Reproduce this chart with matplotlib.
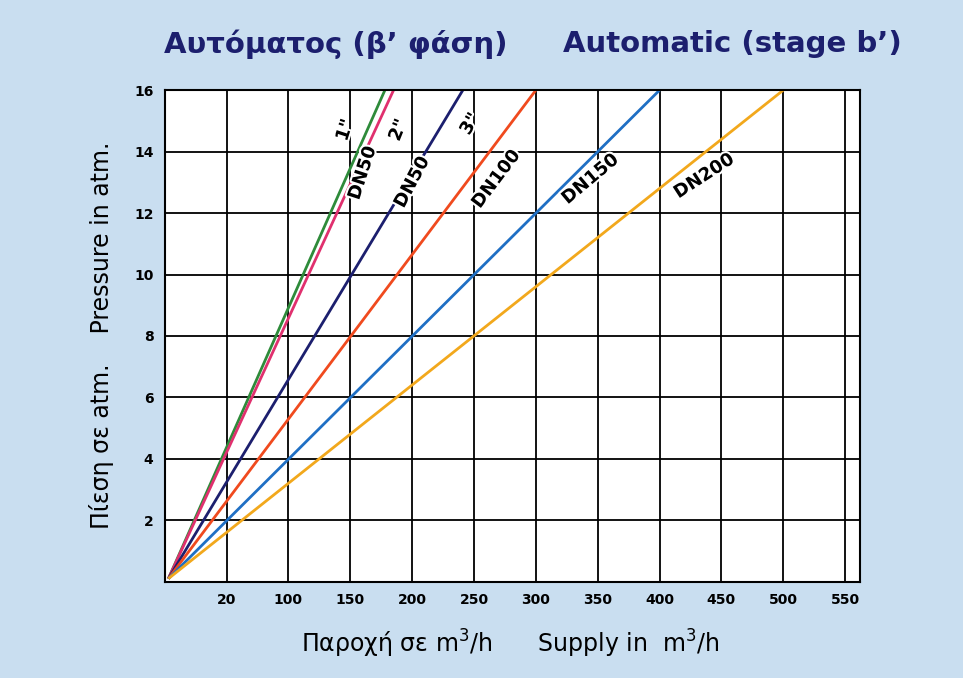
import matplotlib.pyplot as plt
import matplotlib.patheffects as pe

# supply (m3/h) reached at 16 atm for each size, lines start at origin
series_names = ['1"', '2"', "DN50", "DN100", "DN150", "DN200"]
end_supply = [178, 185, 241, 300, 400, 500]
colors = ["#2e8b3a", "#e0306e", "#1c1f6e", "#f04a1e", "#1f6fc4", "#f2a81c"]
x_ticks = [50, 100, 150, 200, 250, 300, 350, 400, 450, 500, 550]
x_ticklabels = ["20", "100", "150", "200", "250", "300", "350", "400", "450", "500", "550"]
y_ticks = [2, 4, 6, 8, 10, 12, 14, 16]

labels = [('1"', 146, 14.7, 72), ('2"', 189, 14.7, 68), ("DN50", 160, 13.3, 72),
          ("DN50", 200, 13.0, 62), ('3"', 247, 14.9, 60), ("DN100", 268, 13.1, 53),
          ("DN150", 344, 13.1, 40), ("DN200", 436, 13.2, 33)]

bg = "#c9def0"
fig = plt.figure(figsize=(9.63, 6.78), dpi=100, facecolor=bg)
ax = fig.add_axes([0.171, 0.142, 0.722, 0.725])
ax.set_facecolor("white")
ax.set_xlim(0, 562)
ax.set_ylim(0, 16)
ax.set_xticks(x_ticks)
ax.set_xticklabels(x_ticklabels, fontsize=10, fontweight="bold")
ax.set_yticks(y_ticks)
ax.set_yticklabels([str(v) for v in y_ticks], fontsize=10, fontweight="bold")
ax.tick_params(length=0, pad=8)
ax.grid(True, color="black", lw=1.3)
for s in ax.spines.values():
    s.set_linewidth(1.5)

for name, xe, c in zip(series_names, end_supply, colors):
    ax.plot([3, xe], [0.1, 16], color=c, lw=2, solid_capstyle="butt")

for txt, x, y, r in labels:
    ax.text(x, y, txt, rotation=r, fontsize=13, fontweight="bold", ha="center", va="center",
            path_effects=[pe.withStroke(linewidth=3, foreground="white")])

fig.text(0.17, 0.935, "Αυτόματος (β’ φάση)", fontsize=21, fontweight="bold", color="#1c1f6e", va="center")
fig.text(0.585, 0.935, "Automatic (stage b’)", fontsize=21, fontweight="bold", color="#1c1f6e", va="center")
fig.text(0.105, 0.505, "Πίεση σε atm.    Pressure in atm.", rotation=90, fontsize=17,
         ha="center", va="center")
fig.text(0.53, 0.05, "Παροχή σε m$^3$/h      Supply in  m$^3$/h", fontsize=17,
         ha="center", va="center")

fig.savefig("out.png", dpi=100, facecolor=bg)
